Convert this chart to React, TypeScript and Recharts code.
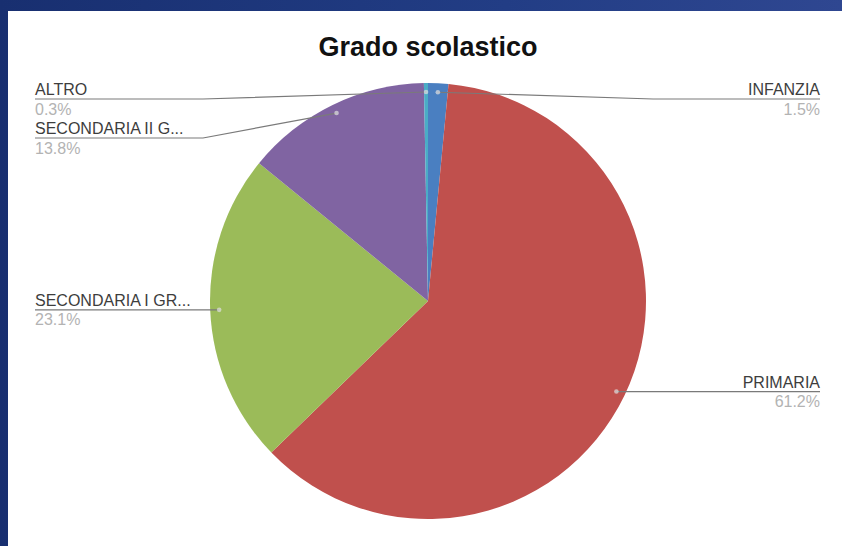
import { PieChart, Pie, Cell } from "recharts";

const CATEGORIES = [
  "INFANZIA",
  "PRIMARIA",
  "SECONDARIA I GRADO",
  "SECONDARIA II GRADO",
  "ALTRO",
];
const SHARES = [1.5, 61.2, 23.1, 13.8, 0.3];
const COLORS = ["#4a7fc1", "#c0504d", "#9bbb59", "#8064a2", "#4bacc6"];
const TITLE = "Grado scolastico";

const W = 834;
const H = 535;
const CX = 420;
const CY = 290;
const RADIUS = 218;
const DOT_INSET = 9;
const LEFT_X = 27;
const RIGHT_X = 812;
const ELBOW = 225;
const TOP_MIN = 88;
const GAP = 39;
const RADIAN = Math.PI / 180;
const FONT = "'Liberation Sans', Arial, sans-serif";

const data = CATEGORIES.map((name, i) => ({ name, value: SHARES[i] }));

function shortName(name: string): string {
  return name.length > 15 ? name.slice(0, 15) + "..." : name;
}

// where each label sits: side + y of the underline, stacked so they don't collide
function buildLayout() {
  const total = SHARES.reduce((s, v) => s + v, 0);
  let cum = 0;
  const items = SHARES.map((v, i) => {
    const theta = ((cum + v / 2) / total) * 360;
    cum += v;
    const dotY = CY - (RADIUS - DOT_INSET) * Math.cos(theta * RADIAN);
    const right = Math.sin(theta * RADIAN) >= 0;
    return { i, dotY, right };
  });
  const out: Record<number, { y: number; right: boolean }> = {};
  for (const side of [true, false]) {
    const list = items.filter((it) => it.right === side).sort((a, b) => a.dotY - b.dotY);
    let prev = -Infinity;
    for (const it of list) {
      const y = Math.max(it.dotY, TOP_MIN, prev + GAP);
      out[it.i] = { y, right: side };
      prev = y;
    }
  }
  return out;
}

const layout = buildLayout();

function renderLabel(props: any) {
  const { cx, cy, midAngle, outerRadius, index, value, name } = props;
  const r = outerRadius - DOT_INSET;
  const dx = cx + r * Math.cos(-midAngle * RADIAN);
  const dy = cy + r * Math.sin(-midAngle * RADIAN);
  const pos = layout[index];
  const right = pos.right;
  const u = pos.y;
  const elbow = right ? Math.max(cx + ELBOW, dx) : Math.min(cx - ELBOW, dx);
  const end = right ? RIGHT_X : LEFT_X;
  const anchor = right ? "end" : "start";
  return (
    <g key={`lbl-${index}`}>
      <polyline
        points={`${dx},${dy} ${elbow},${u} ${end},${u}`}
        fill="none"
        stroke="#7a7a7a"
        strokeWidth={1.2}
      />
      <circle cx={dx} cy={dy} r={2.3} fill="#e0e0e0" fillOpacity={0.7} />
      <text x={end} y={u - 4} textAnchor={anchor} fontFamily={FONT} fontSize={16} fill="#3d3d3d">
        {shortName(name)}
      </text>
      <text x={end} y={u + 15.5} textAnchor={anchor} fontFamily={FONT} fontSize={16} fill="#b3b3b3">
        {`${Number(value).toFixed(1)}%`}
      </text>
    </g>
  );
}

export default function App() {
  return (
    <div
      style={{
        position: "absolute",
        left: 0,
        top: 0,
        width: 842,
        height: 546,
        background: "linear-gradient(90deg, #182f70 0%, #223d85 60%, #2f4791 100%)",
        overflow: "hidden",
      }}
    >
      <div
        style={{
          position: "absolute",
          left: 8,
          top: 11,
          width: W,
          height: H,
          background: "#ffffff",
        }}
      >
        <div
          style={{
            position: "absolute",
            left: 0,
            top: 23,
            width: 2 * CX,
            textAlign: "center",
            fontFamily: FONT,
            fontWeight: 700,
            fontSize: 27,
            lineHeight: "27px",
            color: "#111",
          }}
        >
          {TITLE}
        </div>
        <PieChart width={W} height={H} margin={{ top: 0, right: 0, bottom: 0, left: 0 }}>
          <Pie
            data={data}
            dataKey="value"
            nameKey="name"
            cx={CX}
            cy={CY}
            outerRadius={RADIUS}
            startAngle={90}
            endAngle={-270}
            stroke="none"
            label={renderLabel}
            labelLine={false}
            isAnimationActive={false}
          >
            {data.map((_, i) => (
              <Cell key={i} fill={COLORS[i]} stroke="none" />
            ))}
          </Pie>
        </PieChart>
      </div>
    </div>
  );
}
